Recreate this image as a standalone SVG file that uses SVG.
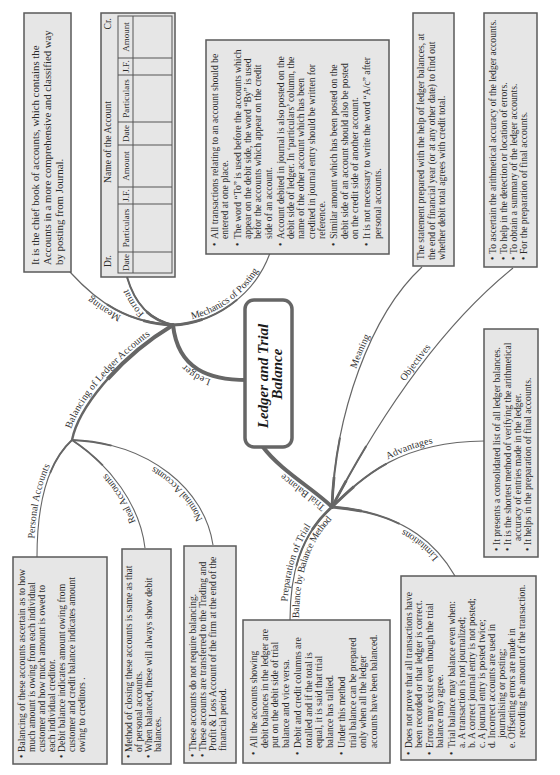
<svg xmlns="http://www.w3.org/2000/svg" width="560" height="775" viewBox="0 0 560 775">
<style>
.box{fill:#e6e6e6;stroke:#5a5a5a;stroke-width:1.5}
.t{font-family:"Liberation Serif",serif;font-size:9.6px;fill:#2a2a2a}
.t10{font-size:10.8px}
.lbl{font-family:"Liberation Serif",serif;font-size:10px;fill:#333}
.c1{fill:none;stroke:#666;stroke-width:4;stroke-linecap:round}
.cb{fill:none;stroke:#666;stroke-width:2.4}
.c2{fill:none;stroke:#666;stroke-width:1.2}
.c3{fill:none;stroke:#666;stroke-width:1.1}
.tp1{fill:none;stroke:#666;stroke-width:2;stroke-dasharray:70 2000}
.tp2{fill:none;stroke:#666;stroke-width:2.8;stroke-dasharray:30 2000}
.tp3{fill:none;stroke:#666;stroke-width:1.8;stroke-dasharray:40 2000}
.tp4{fill:none;stroke:#666;stroke-width:4;stroke-dasharray:85 2000}
.grid{fill:none;stroke:#555;stroke-width:1}
.hd{font-family:"Liberation Serif",serif;font-size:9px;fill:#2a2a2a;text-anchor:middle}
.title{font-family:"Liberation Serif",serif;font-weight:bold;font-style:italic;font-size:15px;fill:#1a1a1a;text-anchor:middle}
</style>
<rect width="560" height="775" fill="#fff"/>
<g transform="translate(0,775) rotate(-90)">
 <g id="connectors">
  <path id="p-ledger" class="c1" d="M395,247 C395,210 405,178 450,173"/>
  <path id="p-meaningL" class="c2" d="M450,173 C452,130 470,100 503,70"/>
  <path id="p-format" class="c2" d="M450,173 C455,150 470,135 498,127"/>
  <path id="p-mech" class="c2" d="M450,173 C452,215 480,255 522,270"/>
  <path id="p-balancing" class="cb" d="M335,72 C365,78 415,115 450,173"/>
  <path id="p-personal" class="c3" d="M218,37 C265,37 310,45 335,72"/>
  <path id="p-real" class="c3" d="M227,145 C270,140 310,110 335,72"/>
  <path id="p-nominal" class="c3" d="M230,213 C285,205 332,150 335,72"/>
  <path id="p-trial" class="c1" d="M268,332 C285,315 305,280 328,263"/>
  <path id="p-tbmeaning" class="c2" d="M268,332 C360,335 460,370 508,422"/>
  <path id="p-objectives" class="c2" d="M268,332 C340,370 440,430 507,513"/>
  <path id="p-advantages" class="c2" d="M268,332 C300,365 333,400 334,484"/>
  <path id="p-limitations" class="c2" d="M199,455 C225,440 262,410 268,332"/>
  <path id="p-preparation" class="c2" d="M155,290 C200,290 240,300 268,332"/>
  <path class="tp1" d="M450,173 C452,130 470,100 503,70"/>
  <path class="tp2" d="M450,173 C452,130 470,100 503,70"/>
  <path class="tp1" d="M450,173 C455,150 470,135 498,127"/>
  <path class="tp2" d="M450,173 C455,150 470,135 498,127"/>
  <path class="tp1" d="M450,173 C452,215 480,255 522,270"/>
  <path class="tp2" d="M450,173 C452,215 480,255 522,270"/>
  <path class="tp4" d="M450,173 C415,115 365,78 335,72"/>
  <path class="tp3" d="M335,72 C310,45 265,37 218,37"/>
  <path class="tp3" d="M335,72 C310,110 270,140 227,145"/>
  <path class="tp3" d="M335,72 C332,150 285,205 230,213"/>
  <path class="tp1" d="M268,332 C360,335 460,370 508,422"/>
  <path class="tp2" d="M268,332 C360,335 460,370 508,422"/>
  <path class="tp1" d="M268,332 C340,370 440,430 507,513"/>
  <path class="tp2" d="M268,332 C340,370 440,430 507,513"/>
  <path class="tp1" d="M268,332 C300,365 333,400 334,484"/>
  <path class="tp2" d="M268,332 C300,365 333,400 334,484"/>
  <path class="tp1" d="M268,332 C262,410 225,440 199,455"/>
  <path class="tp2" d="M268,332 C262,410 225,440 199,455"/>
  <path class="tp1" d="M268,332 C240,300 200,290 155,290"/>
  <path class="tp2" d="M268,332 C240,300 200,290 155,290"/>
  <text class="lbl" dy="-4"><textPath href="#p-ledger" startOffset="35">Ledger</textPath></text>
  <text class="lbl" dy="-3"><textPath href="#p-meaningL" startOffset="52">Meaning</textPath></text>
  <text class="lbl" dy="-3"><textPath href="#p-format" startOffset="30">Format</textPath></text>
  <text class="lbl" dy="-3"><textPath href="#p-mech" startOffset="20">Mechanics of Posting</textPath></text>
  <text class="lbl" dy="-4"><textPath href="#p-balancing" startOffset="10">Balancing of Ledger Accounts</textPath></text>
  <text class="lbl" dy="-3"><textPath href="#p-personal" startOffset="18">Personal Accounts</textPath></text>
  <text class="lbl" dy="-3"><textPath href="#p-real" startOffset="28">Real Accounts</textPath></text>
  <text class="lbl" dy="-3"><textPath href="#p-nominal" startOffset="28">Nominal Accounts</textPath></text>
  <text class="lbl" dy="-4"><textPath href="#p-trial" startOffset="5">Trial Balance</textPath></text>
  <text class="lbl" dy="-3"><textPath href="#p-tbmeaning" startOffset="140">Meaning</textPath></text>
  <text class="lbl" dy="-3"><textPath href="#p-objectives" startOffset="145">Objectives</textPath></text>
  <text class="lbl" dy="-3"><textPath href="#p-advantages" startOffset="73">Advantages</textPath></text>
  <text class="lbl" dy="-3"><textPath href="#p-limitations" startOffset="25">Limitations</textPath></text>
  <text class="lbl" dy="-3"><textPath href="#p-preparation" startOffset="18">Preparation of Trial</textPath></text>
  <text class="lbl" dy="9"><textPath href="#p-preparation" startOffset="2">Balance by Balance Method</textPath></text>
 </g>

 <g id="center">
  <rect x="328" y="245" width="147" height="47" rx="9" fill="#fff" stroke="#666" stroke-width="3.5"/>
  <text class="title" x="399" y="268">Ledger and Trial</text>
  <text class="title" x="401" y="282">Balance</text>
 </g>

 <g id="ledger-meaning">
  <rect class="box" x="503" y="24" width="259" height="47"/>
  <text class="t t10" x="510" y="39">It is the chief book of accounts, which contains the</text>
  <text class="t t10" x="510" y="51">Accounts in a more comprehensive and classified way</text>
  <text class="t t10" x="510" y="63">by posting from Journal.</text>
 </g>

 <g id="ledger-format">
  <rect class="box" x="498" y="101" width="264" height="74"/>
  <text class="t" x="508" y="111">Dr.</text>
  <text class="t" x="633" y="111" text-anchor="middle">Name of the Account</text>
  <text class="t" x="757" y="111" text-anchor="end">Cr.</text>
  <rect class="grid" x="502" y="118" width="257" height="54"/>
  <path class="grid" d="M502,133H759 M523,118V172 M571,118V172 M588,118V172 M630,118V172 M653,118V172 M700,118V172 M717,118V172"/>
  <text class="hd" x="512.5" y="129">Date</text>
  <text class="hd" x="547" y="129">Particulars</text>
  <text class="hd" x="579.5" y="129">J.F.</text>
  <text class="hd" x="609" y="129">Amount</text>
  <text class="hd" x="641.5" y="129">Date</text>
  <text class="hd" x="676.5" y="129">Particulars</text>
  <text class="hd" x="708.5" y="129">J.F.</text>
  <text class="hd" x="738" y="129">Amount</text>
 </g>

 <g id="ledger-mechanics">
  <rect class="box" x="521" y="206" width="214" height="183"/>
  <text class="t" x="529" y="218">•</text>
  <text class="t" x="536" y="218">All transactions relating to an account should be</text>
  <text class="t" x="536" y="228.3">entered at one place.</text>
  <text class="t" x="529" y="240.6">•</text>
  <text class="t" x="536" y="240.6">The word “To” is used before the accounts which</text>
  <text class="t" x="536" y="250.9">appear on the debit side, the word “By” is used</text>
  <text class="t" x="536" y="261.2">befor the accounts which appear on the credit</text>
  <text class="t" x="536" y="271.5">side of an account.</text>
  <text class="t" x="529" y="283.8">•</text>
  <text class="t" x="536" y="283.8">Account debited in journal is also posted on the</text>
  <text class="t" x="536" y="294.1">debit side of ledger. In ‘particulars’ column, the</text>
  <text class="t" x="536" y="304.4">name of the other account which has been</text>
  <text class="t" x="536" y="314.7">credited in journal entry should be written for</text>
  <text class="t" x="536" y="325">reference.</text>
  <text class="t" x="529" y="337.3">•</text>
  <text class="t" x="536" y="337.3">Similar amount which has been posted on the</text>
  <text class="t" x="536" y="347.6">debit side of an account should also be posted</text>
  <text class="t" x="536" y="357.9">on the credit side of another account.</text>
  <text class="t" x="529" y="370.2">•</text>
  <text class="t" x="536" y="370.2">It is not necessary to write the word “A/c” after</text>
  <text class="t" x="536" y="380.5">personal accounts.</text>
 </g>

 <g id="tb-meaning">
  <rect class="box" x="509" y="413" width="253" height="41"/>
  <text class="t" x="515" y="424">The statement prepared with the help of ledger balances, at</text>
  <text class="t" x="515" y="434.5">the end of financial year (or at any other date) to find out</text>
  <text class="t" x="515" y="445">whether debit total agrees with credit total.</text>
 </g>

 <g id="tb-objectives">
  <rect class="box" x="508" y="484" width="254" height="53"/>
  <text class="t" x="515" y="496">•</text>
  <text class="t" x="521" y="496">To ascertain the arithmetical accuracy of the ledger accounts.</text>
  <text class="t" x="515" y="507">•</text>
  <text class="t" x="521" y="507">To help in the detection or location of errors.</text>
  <text class="t" x="515" y="517">•</text>
  <text class="t" x="521" y="517">To obtain a summary of the ledger accounts.</text>
  <text class="t" x="515" y="527">•</text>
  <text class="t" x="521" y="527">For the preparation of final accounts.</text>
 </g>

 <g id="tb-advantages">
  <rect class="box" x="218" y="484" width="228" height="54"/>
  <text class="t" x="224" y="500">•</text>
  <text class="t" x="230" y="500">It presents a consolidated list of all ledger balances.</text>
  <text class="t" x="224" y="511">•</text>
  <text class="t" x="230" y="511">It is the shortest method of verifying the arithmetical</text>
  <text class="t" x="234" y="521">accuracy of entries made in the ledger.</text>
  <text class="t" x="224" y="531">•</text>
  <text class="t" x="230" y="531">It helps in the preparation of final accounts.</text>
 </g>

 <g id="tb-limitations">
  <rect class="box" x="15" y="401" width="184" height="135"/>
  <text class="t" x="20" y="412">•</text>
  <text class="t" x="27" y="412">Does not prove that all transactions have</text>
  <text class="t" x="27" y="422">been recorded or that ledger is correct.</text>
  <text class="t" x="20" y="433">•</text>
  <text class="t" x="27" y="433">Errors may exist even though the trial</text>
  <text class="t" x="27" y="443">balance may agree.</text>
  <text class="t" x="20" y="455">•</text>
  <text class="t" x="27" y="455">Trial balance may balance even when:</text>
  <text class="t" x="27" y="465">a. A transaction is not journalized;</text>
  <text class="t" x="27" y="475">b. A correct journal entry is not posted;</text>
  <text class="t" x="27" y="485">c. A journal entry is posted twice;</text>
  <text class="t" x="27" y="495">d. Incorrect accounts are used in</text>
  <text class="t" x="37" y="505">journalising or posting;</text>
  <text class="t" x="27" y="515">e. Offsetting errors are made  in</text>
  <text class="t" x="37" y="525">recording the amount of the transaction.</text>
 </g>

 <g id="tb-preparation">
  <rect class="box" x="12" y="243" width="143" height="147"/>
  <text class="t" x="20" y="257">•</text>
  <text class="t" x="27" y="257">All the accounts showing</text>
  <text class="t" x="27" y="267.5">debit balances in the ledger are</text>
  <text class="t" x="27" y="278">put on the debit side of trial</text>
  <text class="t" x="27" y="288.5">balance and vice versa.</text>
  <text class="t" x="20" y="301">•</text>
  <text class="t" x="27" y="301">Debit and credit columns are</text>
  <text class="t" x="27" y="311.5">totalled and if the total is</text>
  <text class="t" x="27" y="322">equal, it is said that trial</text>
  <text class="t" x="27" y="332.5">balance has tallied.</text>
  <text class="t" x="20" y="345">•</text>
  <text class="t" x="27" y="345">Under this method</text>
  <text class="t" x="27" y="355.5">trial balance can be prepared</text>
  <text class="t" x="27" y="366">only when all the ledger</text>
  <text class="t" x="27" y="376.5">accounts have been balanced.</text>
 </g>

 <g id="bal-nominal">
  <rect class="box" x="12" y="184" width="217" height="52"/>
  <text class="t" x="18" y="196">•</text>
  <text class="t" x="24" y="196">These accounts do not require balancing.</text>
  <text class="t" x="18" y="206">•</text>
  <text class="t" x="24" y="206">These accounts are transferred to the Trading and</text>
  <text class="t" x="24" y="216">Profit &amp; Loss Account of the firm at the end of the</text>
  <text class="t" x="24" y="226">financial period.</text>
 </g>

 <g id="bal-real">
  <rect class="box" x="11" y="122" width="215" height="49"/>
  <text class="t" x="17" y="132">•</text>
  <text class="t" x="23" y="132">Method of closing these accounts is same as that</text>
  <text class="t" x="23" y="141.5">of personal accounts.</text>
  <text class="t" x="17" y="151.5">•</text>
  <text class="t" x="23" y="151.5">When balanced, these will always show debit</text>
  <text class="t" x="23" y="161">balances.</text>
 </g>

 <g id="bal-personal">
  <rect class="box" x="11" y="13" width="207" height="94"/>
  <text class="t" x="17" y="25">•</text>
  <text class="t" x="23" y="25">Balancing of these accounts ascertain as to how</text>
  <text class="t" x="23" y="35">much amount is owing from each individual</text>
  <text class="t" x="23" y="45">customer and how much amount is owed to</text>
  <text class="t" x="23" y="55">each individual creditor.</text>
  <text class="t" x="17" y="65">•</text>
  <text class="t" x="23" y="65">Debit balance indicates amount owing from</text>
  <text class="t" x="23" y="75">customer and credit balance indicates amount</text>
  <text class="t" x="23" y="85">owing to creditors .</text>
 </g>
</g>
</svg>
